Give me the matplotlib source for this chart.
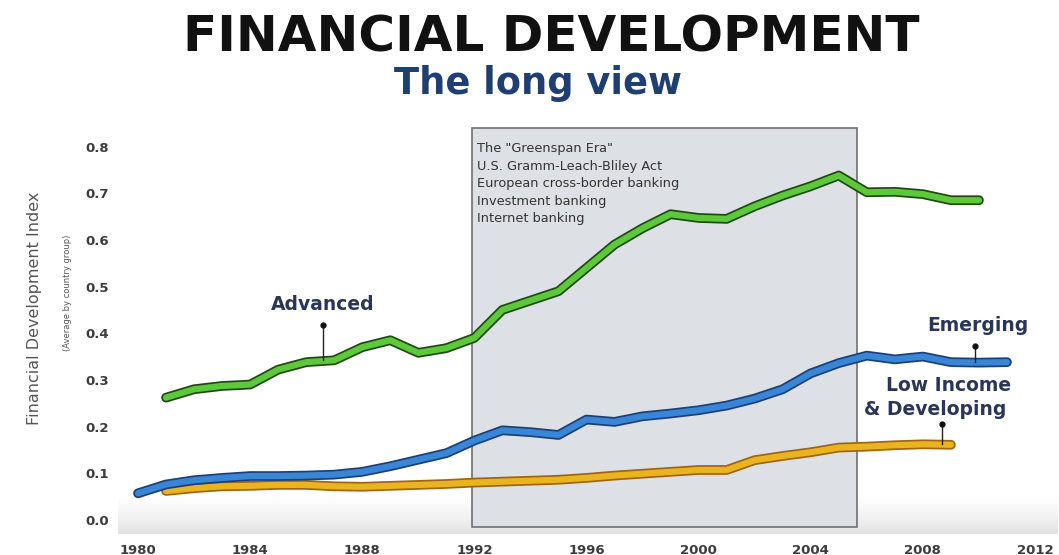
import numpy as np
import matplotlib.pyplot as plt
import matplotlib.patheffects as pe
from matplotlib.patches import Rectangle

# data (Financial Development Index, average by country group)
adv_years = list(range(1981, 2011))
advanced = [0.262, 0.280, 0.287, 0.290, 0.322, 0.338, 0.342, 0.370, 0.385, 0.358,
            0.368, 0.390, 0.450, 0.470, 0.490, 0.540, 0.590, 0.625, 0.655, 0.647,
            0.645, 0.672, 0.695, 0.715, 0.738, 0.702, 0.703, 0.698, 0.685, 0.685]

emg_years = list(range(1980, 2012))
emerging = [0.057, 0.076, 0.085, 0.090, 0.094, 0.094, 0.095, 0.097, 0.103, 0.115,
            0.129, 0.143, 0.170, 0.192, 0.188, 0.182, 0.215, 0.210, 0.222, 0.228,
            0.235, 0.245, 0.260, 0.280, 0.314, 0.336, 0.352, 0.344, 0.350, 0.338,
            0.337, 0.338]

low_years = list(range(1981, 2010))
low_income = [0.062, 0.068, 0.072, 0.073, 0.075, 0.075, 0.072, 0.071, 0.073, 0.075,
              0.077, 0.080, 0.082, 0.084, 0.086, 0.090, 0.095, 0.099, 0.103, 0.107,
              0.107, 0.128, 0.137, 0.145, 0.155, 0.157, 0.160, 0.162, 0.161]

greenspan_era = (1991.9, 2005.65)
era_notes = ['The "Greenspan Era"', 'U.S. Gramm-Leach-Bliley Act',
             'European cross-border banking', 'Investment banking', 'Internet banking']

xticks = [1980, 1984, 1988, 1992, 1996, 2000, 2004, 2008, 2012]
yticks = [0.0, 0.1, 0.2, 0.3, 0.4, 0.5, 0.6, 0.7, 0.8]

fig = plt.figure(figsize=(10.59, 5.55), dpi=100)
ax = fig.add_axes([0.1118, 0.038, 0.8867, 0.74])
ax.set_xlim(1979.3, 2012.8)
ax.set_ylim(-0.03, 0.85)

# soft grey "floor" at the bottom, fading upwards
grad = np.linspace(0, 1, 80).reshape(-1, 1)
ax.imshow(grad, extent=(1979.3, 2012.8, -0.03, 0.05), aspect='auto',
          cmap='Greys', vmin=0, vmax=5, origin='upper', zorder=0)

# the Greenspan era box
ax.add_patch(Rectangle((greenspan_era[0], -0.015), greenspan_era[1] - greenspan_era[0], 0.855,
                       facecolor='#dde0e4', edgecolor='#707070', linewidth=1.2, zorder=1))
for i, note in enumerate(era_notes):
    ax.text(greenspan_era[0] + 0.2, 0.795 - i * 0.0375, note, fontsize=9.3, color='#333333',
            va='center', ha='left', zorder=2)

def ribbon(x, y, color, dark):
    ax.plot(x, y, color=color, linewidth=4.5, solid_capstyle='round', zorder=3,
            path_effects=[pe.Stroke(linewidth=7, foreground=dark), pe.Normal()])

ribbon(low_years, low_income, '#e9b41f', '#a0640e')
ribbon(emg_years, emerging, '#3a86d6', '#1c3f78')
ribbon(adv_years, advanced, '#5cc83a', '#1e4a12')

# labels with pointer pins
navy = '#2a3658'
def pin(x, y0, y1):
    ax.plot([x, x], [y0, y1], color='#222222', linewidth=1, zorder=4)
    ax.plot(x, y1, 'o', color='#111111', markersize=3.5, zorder=4)

ax.text(1986.6, 0.461, 'Advanced', fontsize=13.5, fontweight='bold', color=navy,
        ha='center', va='center')
pin(1986.6, 0.342, 0.418)
ax.text(2009.97, 0.416, 'Emerging', fontsize=13.5, fontweight='bold', color=navy,
        ha='center', va='center')
pin(2009.86, 0.338, 0.373)
ax.text(2008.9, 0.289, 'Low Income', fontsize=13.5, fontweight='bold', color=navy,
        ha='center', va='center')
ax.text(2008.43, 0.236, '& Developing', fontsize=13.5, fontweight='bold', color=navy,
        ha='center', va='center')
pin(2008.68, 0.162, 0.206)

ax.set_xticks(xticks)
ax.set_xticklabels([str(t) for t in xticks])
ax.set_yticks(yticks)
ax.set_yticklabels(['%.1f' % t for t in yticks])
ax.tick_params(length=0, labelsize=9.5, labelcolor='#3c3c3c', pad=7)
for lab in ax.get_xticklabels() + ax.get_yticklabels():
    lab.set_fontweight('bold')
for s in ax.spines.values():
    s.set_visible(False)

fig.text(0.033, 0.445, 'Financial Development Index', rotation=90, fontsize=11.5,
         color='#555555', ha='center', va='center')
fig.text(0.064, 0.472, '(Average by country group)', rotation=90, fontsize=6,
         color='#555555', ha='center', va='center')

fig.text(0.521, 0.933, 'FINANCIAL DEVELOPMENT', fontsize=36, fontweight='bold',
         color='#111111', ha='center', va='center')
fig.text(0.508, 0.85, 'The long view', fontsize=26.5, fontweight='bold',
         color='#1f3f73', ha='center', va='center')

plt.savefig('out.png', dpi=100)
